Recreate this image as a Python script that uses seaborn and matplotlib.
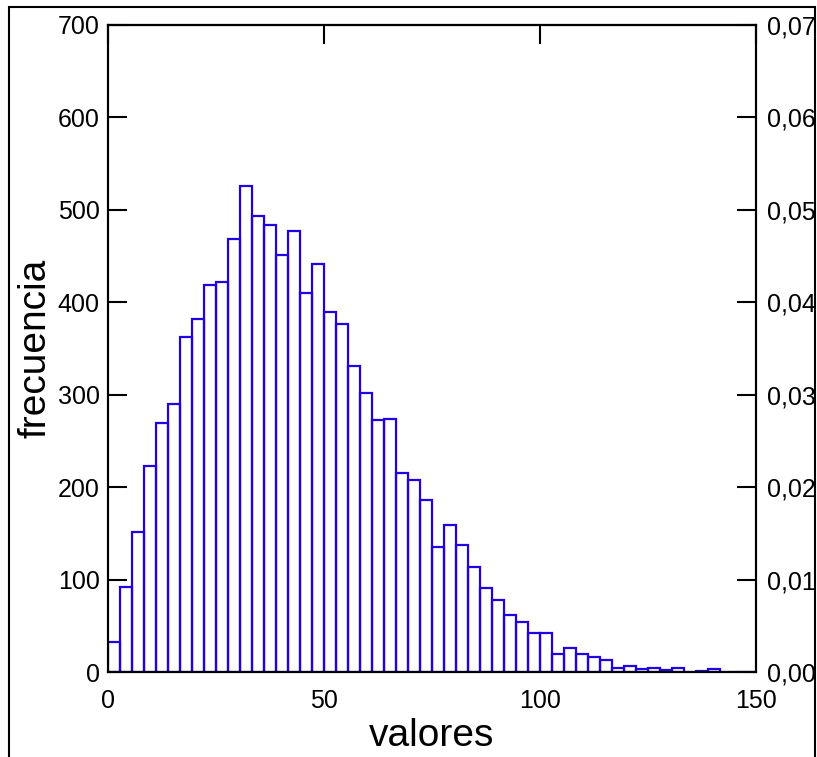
import numpy as np
import pandas as pd
import seaborn as sns
import matplotlib
matplotlib.use("Agg")
import matplotlib.pyplot as plt
from matplotlib.patches import Rectangle
from matplotlib.ticker import FuncFormatter

# ---- data ----
n_bins = 54
x_range = (0, 150)
counts = [32, 92, 152, 223, 269, 290, 362, 382, 419, 422,
          469, 526, 493, 484, 451, 477, 410, 441, 389, 376,
          331, 302, 273, 274, 215, 208, 186, 135, 159, 137,
          114, 91, 78, 62, 54, 42, 42, 20, 26, 20,
          16, 13, 4, 7, 3, 4, 2, 4, 0, 1,
          3, 0, 0, 0]
x_ticks = [0, 50, 100, 150]
y_ticks = [0, 100, 200, 300, 400, 500, 600, 700]
y2_ticks = [0.00, 0.01, 0.02, 0.03, 0.04, 0.05, 0.06, 0.07]
x_label = "valores"
y_label = "frecuencia"

bin_edges = np.linspace(x_range[0], x_range[1], n_bins + 1)
centers = (bin_edges[:-1] + bin_edges[1:]) / 2
df = pd.DataFrame({"valor": centers, "n": counts})

sns.set_style("ticks")
plt.rcParams["font.family"] = ["Liberation Sans", "DejaVu Sans"]
plt.rcParams["text.color"] = "black"
plt.rcParams["axes.labelcolor"] = "black"
plt.rcParams["xtick.color"] = "black"
plt.rcParams["ytick.color"] = "black"

W, H = 817, 757
fig = plt.figure(figsize=(W / 100, H / 100), dpi=100)
ax = fig.add_axes([108 / W, 85 / H, 648 / W, 647 / H])

blue = "#2200E6"
sns.histplot(data=df, x="valor", weights="n", bins=n_bins, binrange=x_range,
             fill=False, color=blue, linewidth=1.6, ax=ax)

ax.set_xlim(0, 150)
ax.set_ylim(0, 700)
ax.set_xticks(x_ticks)
ax.set_yticks(y_ticks)
ax.set_xticklabels([str(t) for t in x_ticks])
ax.set_yticklabels([str(t) for t in y_ticks])

for s in ax.spines.values():
    s.set_visible(True)
    s.set_linewidth(1.5)
    s.set_color("black")

tick_len = 14
ax.tick_params(axis="y", direction="in", length=tick_len, width=1.5,
               labelsize=18, pad=6, colors="black", labelcolor="black")
ax.tick_params(axis="x", direction="in", length=0, labelsize=18, pad=12,
               colors="black", labelcolor="black")

# top ticks (inward) via secondary axis
axt = ax.secondary_xaxis("top")
axt.set_xticks(x_ticks)
axt.tick_params(direction="in", length=tick_len, width=1.5, labeltop=False,
                colors="black")
axt.spines["top"].set_linewidth(1.5)

# right axis: relative frequency
ax2 = ax.twinx()
ax2.set_ylim(0, 0.07)
ax2.set_yticks(y2_ticks)
ax2.yaxis.set_major_formatter(FuncFormatter(lambda v, p: f"{v:.2f}".replace(".", ",")))
ax2.tick_params(axis="y", direction="in", length=tick_len, width=1.5,
                labelsize=18, pad=8, colors="black", labelcolor="black")
for s in ax2.spines.values():
    s.set_linewidth(1.5)
    s.set_color("black")

ax.set_xlabel(x_label, fontsize=28, labelpad=4, color="black")
ax.set_ylabel(y_label, fontsize=28, labelpad=3, color="black")

# figure frame
fig.patches.append(Rectangle((9 / W, -0.05), (815 - 9) / W, (H - 7) / H + 0.05,
                             transform=fig.transFigure, fill=False,
                             edgecolor="black", linewidth=1.5, zorder=10))

fig.savefig("out.png", dpi=100)
